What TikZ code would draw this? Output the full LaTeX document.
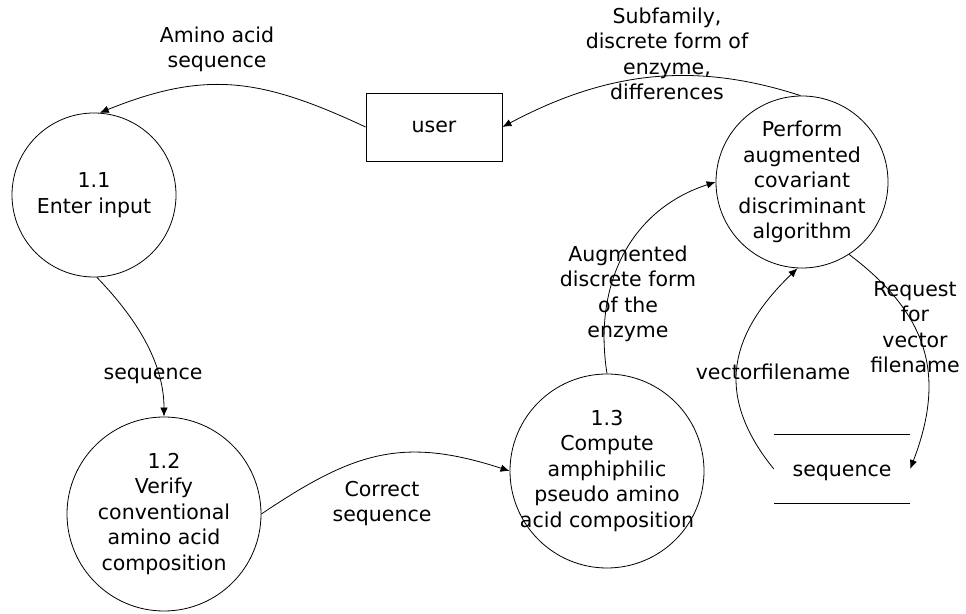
\documentclass[tikz,border=0pt]{standalone}
\usepackage{fontspec}
\setmainfont{DejaVu Sans}
\usetikzlibrary{arrows.meta}
\begin{document}
\begin{tikzpicture}[x=1pt,y=1pt,
  every node/.style={font=\fontsize{20.5}{25.5}\selectfont, inner sep=0pt},
  process/.style={draw, circle, line width=0.8pt},
  proctext/.style={align=center},
  entity/.style={draw, line width=0.8pt, minimum width=136pt, minimum height=68pt},
  storebox/.style={minimum width=136pt, minimum height=68pt},
  flowlabel/.style={align=center, anchor=base},
  flow/.style={line width=0.8pt, -{Latex[length=9pt,width=7.5pt]}}]
\useasboundingbox (0,0) rectangle (966,613);

% processes
\node[process, minimum size=164pt] (c11) at (94,418) {};
\node[proctext] (c11t) at (c11.center) {1.1\\Enter input};
\node[process, minimum size=194pt] (c12) at (164,99) {};
\node[proctext] (c12t) at (c12.center) {1.2\\Verify\\conventional\\amino acid\\composition};
\node[process, minimum size=194pt] (c13) at (607,142) {};
\node[proctext] (c13t) at (c13.center) {1.3\\Compute\\amphiphilic\\pseudo amino\\acid composition};
\node[process, minimum size=172pt] (perf) at (802,431) {};
\node[proctext] (perft) at (perf.center) {Perform\\augmented\\covariant\\discriminant\\algorithm};

% external entity
\node[entity] (user) at (434,486) {user};

% data store
\node[storebox] (store) at (842,144) {};
\draw[line width=0.8pt] (store.north west) -- (store.north east);
\draw[line width=0.8pt] (store.south west) -- (store.south east);
\node[anchor=base] (storet) at ([yshift=-8pt]store.center) {sequence};

% data flows
\draw[flow] (user.west) to[out=155,in=22,distance=115pt] (c11.86);
\draw[flow] (perf.91) to[out=162,in=28,distance=115pt] (user.east);
\draw[flow] (c11.272) to[out=314,in=90,distance=55pt] (c12.north);
\draw[flow] (c12.east) to[out=34,in=162,distance=112pt] (c13.west);
\draw[flow] (c13.north) to[out=99,in=198,distance=90pt] (perf.west);
\draw[flow] (perf.303) to[out=-37,in=69,distance=100pt] (store.east);
\draw[flow] (store.west) to[out=129,in=224,distance=95pt] (perf.267);

% flow labels (base anchor sits on the last line)
\node[flowlabel] (lA) at (217,545) {Amino acid\\sequence};
\node[flowlabel] (lB) at (667,513) {Subfamily,\\discrete form of\\enzyme,\\differences};
\node[flowlabel] (lC) at (153,233) {sequence};
\node[flowlabel] (lD) at (382,91) {Correct\\sequence};
\node[flowlabel] (lE) at (628,275) {Augmented\\discrete form\\of the\\enzyme};
\node[flowlabel] (lF) at (915,240) {Request\\for\\vector\\filename};
\node[flowlabel] (lG) at (773,233) {vectorfilename};
\end{tikzpicture}
\end{document}
